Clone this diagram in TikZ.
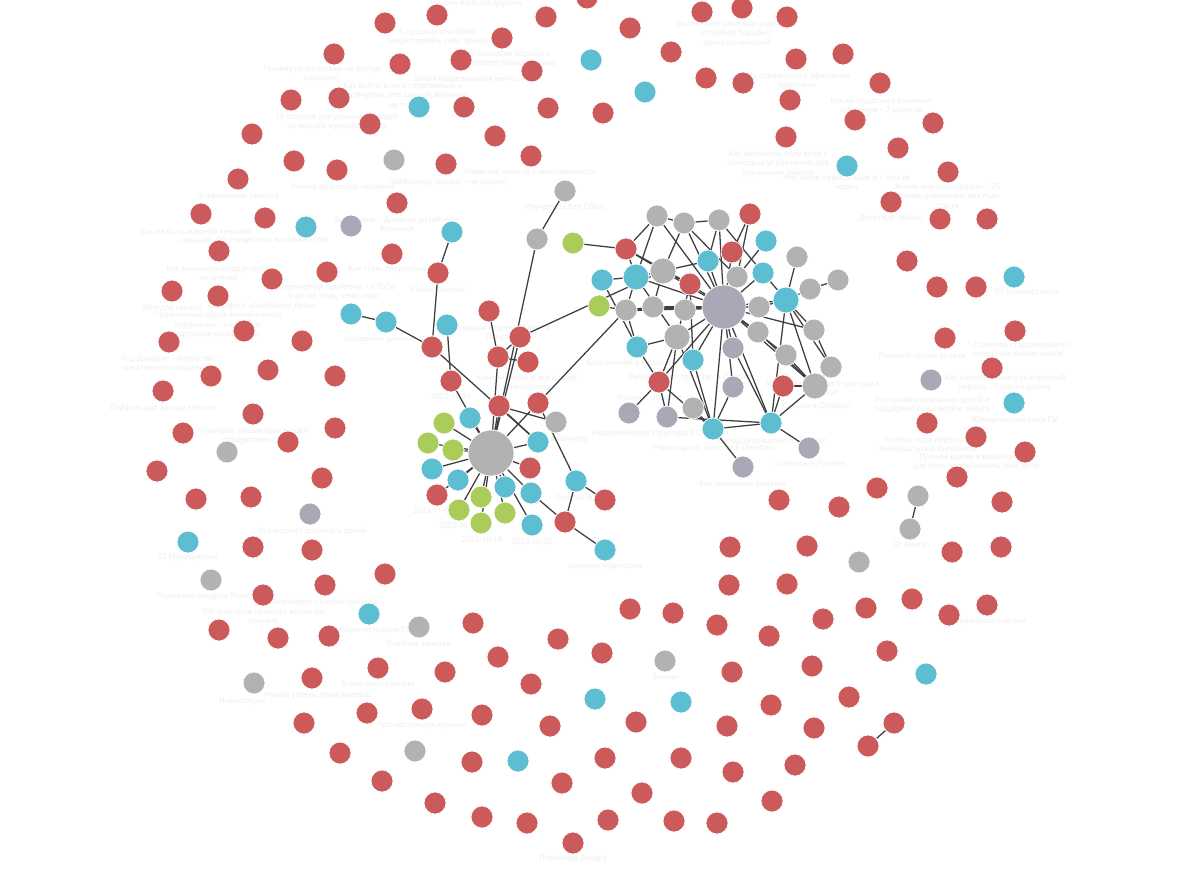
\documentclass[tikz,border=0pt]{standalone}
\usepackage{fontspec}
\newfontfamily\tagfont{Open Sans}
\definecolor{dotred}{RGB}{205,90,90}
\definecolor{dotcyan}{RGB}{92,190,208}
\definecolor{dotgray}{RGB}{178,178,178}
\definecolor{dotslate}{RGB}{168,168,182}
\definecolor{dotgreen}{RGB}{170,204,90}
\definecolor{linkgray}{RGB}{62,62,62}
\pgfdeclarelayer{background}
\pgfsetlayers{background,main}
\tikzset{
	dot/.style={circle, draw=white, line width=.5pt, inner sep=0pt, minimum size=.55cm},
	link/.style={draw=linkgray, line width=.9pt},
	tag/.style={text=black!7, font={\tagfont\fontsize{5.5}{6.6}\selectfont}, align=center, inner sep=0pt}
}
\begin{document}
\begin{tikzpicture}[x=.025cm, y=-.025cm]
		\useasboundingbox (0,0) rectangle (1200,887);
		\def\reds{437/15, 385/23, 546/17, 587/-2, 502/38, 334/54, 400/64, 461/60, 532/71, 291/100,
			339/98, 464/107, 548/108, 252/134, 370/124, 495/136, 294/161, 337/170, 446/164, 531/156,
			238/179, 397/203, 603/113, 630/28, 671/52, 702/12, 742/8, 787/17, 706/78, 743/83,
			796/59, 843/54, 880/83, 790/100, 855/120, 933/123, 786/137, 898/148, 948/172, 891/202,
			940/219, 987/219, 907/261, 937/287, 976/287, 201/214, 265/218, 219/251, 392/254, 272/279,
			327/272, 172/291, 218/296, 244/331, 169/342, 302/341, 211/376, 268/370, 335/376, 163/391,
			253/414, 335/428, 183/433, 288/442, 157/471, 322/478, 196/499, 251/497, 253/547, 312/550,
			263/595, 325/585, 385/574, 219/630, 278/638, 329/636, 473/623, 312/678, 378/668, 445/672,
			498/657, 531/684, 558/639, 602/653, 630/609, 304/723, 367/713, 422/709, 482/715, 550/726,
			340/753, 472/762, 382/781, 435/803, 482/817, 527/823, 562/783, 605/758, 608/820, 573/843,
			636/722, 642/793, 681/758, 674/821, 717/823, 733/772, 772/801, 795/765, 727/726, 771/705,
			814/728, 849/697, 732/672, 812/666, 887/651, 866/608, 823/619, 769/636, 717/625, 673/613,
			729/585, 787/584, 730/547, 807/546, 779/500, 839/507, 877/488, 957/477, 1002/502, 952/552,
			1001/547, 912/599, 949/615, 987/605, 945/338, 1015/331, 992/368, 927/423, 976/437, 1025/452}
		\def\cyans{591/60, 645/92, 419/107, 306/227, 847/166, 1014/277, 1014/403, 188/542, 369/614,
			518/761, 595/699, 681/702, 926/674}
		\def\grays{394/160, 227/452, 211/580, 419/627, 254/683, 415/751, 665/661, 859/562}
		\def\slates{351/226, 310/514, 931/380}
		\foreach \x/\y [count = \i] in \reds { \node[dot, fill=dotred] (r\i) at (\x, \y) {}; }
		\foreach \x/\y [count = \i] in \cyans { \node[dot, fill=dotcyan] (c\i) at (\x, \y) {}; }
		\foreach \x/\y [count = \i] in \grays { \node[dot, fill=dotgray] (g\i) at (\x, \y) {}; }
		\foreach \x/\y [count = \i] in \slates { \node[dot, fill=dotslate] (s\i) at (\x, \y) {}; }
		\node[dot, fill=dotgray] (pa) at (918, 496) {};
		\node[dot, fill=dotgray] (pb) at (910, 529) {};
		\node[dot, fill=dotred] (pc) at (894, 723) {};
		\node[dot, fill=dotred] (pd) at (868, 746) {};
		% dated notes
		\node[dot, fill=dotgray, minimum size=1.15cm] (days) at (491, 453) {};
		\foreach \n/\x/\y/\c in {d1/470/418/dotcyan, d2/444/423/dotgreen, d3/428/443/dotgreen,
			d4/453/450/dotgreen, d5/432/469/dotcyan, d6/458/480/dotcyan, d7/437/495/dotred,
			d8/481/497/dotgreen, d9/459/510/dotgreen, d10/481/523/dotgreen, d11/505/513/dotgreen,
			d12/505/487/dotcyan, d13/531/493/dotcyan, d14/532/525/dotcyan, d15/530/468/dotred,
			d16/538/442/dotcyan, d17/499/406/dotred, d18/538/403/dotred, d19/556/422/dotgray,
			d20/576/481/dotcyan, d21/605/500/dotred, d22/565/522/dotred, d23/605/550/dotcyan,
			d24/451/381/dotred, d25/447/325/dotcyan, d26/432/347/dotred, d27/386/322/dotcyan,
			d28/351/314/dotcyan, d29/438/273/dotred, d30/452/232/dotcyan, d31/498/357/dotred,
			d32/489/311/dotred, d33/528/362/dotred, d34/520/337/dotred, d35/537/239/dotgray,
			d36/565/191/dotgray, d37/573/243/dotgreen, d38/599/306/dotgreen}
			{ \node[dot, fill=\c] (\n) at (\x, \y) {}; }
		% obsidian notes
		\node[dot, fill=dotslate, minimum size=1.1cm] (obs) at (724, 307) {};
		\foreach \n/\x/\y/\c/\s in {k1/657/216/dotgray/.55, k2/684/223/dotgray/.55, k3/719/220/dotgray/.55,
			k4/750/214/dotred/.55, k5/766/241/dotcyan/.55, k6/626/249/dotred/.55, k7/732/252/dotred/.55,
			k8/708/261/dotcyan/.55, k9/763/273/dotcyan/.55, k10/797/257/dotgray/.55, k11/602/280/dotcyan/.55,
			k12/636/277/dotcyan/.65, k13/663/271/dotgray/.65, k14/690/284/dotred/.55, k15/737/277/dotgray/.55,
			k16/838/280/dotgray/.55, k17/810/289/dotgray/.55, k18/786/300/dotcyan/.65, k19/759/307/dotgray/.55,
			k20/626/310/dotgray/.55, k21/653/307/dotgray/.55, k22/685/310/dotgray/.55, k23/814/330/dotgray/.55,
			k24/677/337/dotgray/.65, k25/758/332/dotgray/.55, k26/733/348/dotslate/.55, k27/637/347/dotcyan/.55,
			k28/786/355/dotgray/.55, k29/831/367/dotgray/.55, k30/693/360/dotcyan/.55, k31/659/382/dotred/.55,
			k32/783/386/dotred/.55, k33/733/387/dotslate/.55, k34/815/386/dotgray/.65, k35/693/408/dotgray/.55,
			k36/629/413/dotslate/.55, k37/667/417/dotslate/.55, k38/713/429/dotcyan/.55, k39/771/423/dotcyan/.55,
			k40/809/448/dotslate/.55, k41/743/467/dotslate/.55}
			{ \node[dot, fill=\c, minimum size=\s cm] (\n) at (\x, \y) {}; }
		\begin{pgfonlayer}{background}
			\fill[white] (0,0) rectangle (1200,887);
			\foreach \x/\y/\t [count = \i] in {477/4/{Начать жить по-другому},
				437/37/{5 простых способов\\почувствовать себя лучше},
				510/59/{5 способов борьбы с\\интернет-зависимостью},
				322/74/{Почему to-do-списки не всегда\\работают},
				466/79/{Зачем бездельникам мечты},
				403/95/{Как войти в лето спортивным и\\подтянутым, без единой жиринки\\на теле},
				337/122/{10 советов для успешных людей\\по версии журнала Forbes},
				343/188/{Режим здорового человека}, 238/196/{Дневниковая заметка},
				530/172/{Развитие личной ответственности}, 447/182/{Лайфхакеру кризис – не кризис},
				737/34/{Выполняем сложные задачи – 6\\способов борьбы с\\прокрастинацией},
				797/81/{Как справиться с офисными\\задирами},
				881/105/{Как не поддаться влиянию\\скептиков – 7 советов},
				778/164/{Как воспитать силу воли с\\помощью упражнения для\\улучшения памяти},
				847/183/{Что такое аффирмация и с чем ее\\«едят»},
				947/197/{Жизнь вне корпорации – 25\\уроков, усвоенных два года\\спустя},
				891/219/{Действуй сейчас}, 1027/293/{01 Коммерсанты},
				1018/350/{13 советов стартаперам от\\успешных бизнесменов},
				922/357/{Главный секрет успеха},
				1005/383/{Как написать книгу за короткий\\период – 3 шага к успеху},
				932/405/{Постановка реальных целей и\\поддержка силы воли в тонусе},
				1015/421/{Юридические лица ПУ},
				928/445/{Почему пора перестать\\возмущаться в интернете},
				976/462/{Лучшее время в вашей жизни\\для того, чтобы начать свое дело},
				196/236/{Как не быть жирной ленивой\\свиньей}, 272/240/{Об упущенных возможностях},
				397/224/{Янн Франк – Дневник дизайнера\\Маньяка},
				392/270/{Как стать спортсменом}, 438/290/{Размышления},
				219/273/{Как завоевать сердца своих\\читателей},
				334/292/{Студенческая проблема – в ВУЗе\\учат не тому, чему надо},
				262/306/{Манифест «Любимого Дела»}, 172/308/{Теги для канала},
				218/325/{Правильный образ жизни и ваше\\окружение – как найти\\здоровое сообщество},
				380/339/{Основные данные},
				168/364/{Род Джадкис – Искусство\\креативного мышления},
				163/408/{Лайфхак для автора текстов},
				565/207/{Изучение Libre Office},
				502/333/{Порядок ведения блога в\\Telegram},
				527/383/{Контент-план и все к нему\\относящееся},
				630/363/{База знаний в Obsidian}, 692/377/{Рабочее пространство в Obsidian},
				823/388/{Информационная структура в\\Obsidian}, 650/398/{Папки в Obsidian},
				817/406/{Ссылки в Obsidian}, 660/433/{Иерархическая структура в Obsidian},
				772/441/{Метод Zettelkasten в Obsidian}, 713/448/{Рефакторинг заметок в Obsidian},
				810/465/{О Никласе Лумане},
				557/439/{Шкаф в комнату}, 577/498/{Ответы WB}, 605/567/{Целевая Аудитория},
				743/484/{Как связывать заметки},
				451/397/{2023-10-01}, 433/511/{2023-11-01}, 459/526/{2023-10-20},
				482/540/{2023-10-18}, 532/542/{2023-10-02},
				253/436/{10 мифов, мешающих вашей\\продуктивности},
				312/531/{Что мешает достигать целей}, 188/558/{02 Муниципалы},
				211/597/{Полезные ресурсы Телеграм}, 325/602/{Формирую пенсию сам себе},
				263/617/{100 способов прожить жизнь не\\полную},
				369/631/{03 Администрация ТС}, 419/644/{Учебная заметка},
				242/701/{Инвестиции}, 318/696/{Нужно успеть, пока живешь},
				378/684/{В чем смысл жизни}, 422/726/{Про настоящих мужчин},
				573/859/{Пирамида Дилдса}, 665/677/{Займы}, 910/545/{30 Книги},
				987/622/{5 признаков счастья}}
				{ \node[tag] (t\i) at (\x, \y) {\t}; }
			\foreach \a in {d1, d2, d3, d4, d5, d6, d7, d8, d9, d10, d11, d12, d13, d14, d15, d16,
				d17, d18, d24, d31, d34, d35}
				{ \draw[link] (days) -- (\a); }
			\foreach \a/\b in {d17/d19, d17/d16, d18/d20, d20/d21, d20/d22, d13/d22, d22/d23,
				d26/d16, d27/d26, d28/d27, d29/d26, d30/d29, d25/d24, d32/d31, d31/d33, d34/d31,
				d36/d35, d37/k6, d34/k13, d18/k20, d38/k20, pa/pb, pc/pd}
				{ \draw[link] (\a) -- (\b); }
			\foreach \a in {k1, k2, k3, k7, k8, k9, k12, k13, k14, k15, k18, k19, k21, k22, k23,
				k24, k25, k26, k28, k30, k31, k33, k34, k38, k39}
				{ \draw[link] (obs) -- (\a); }
			\draw[link, line width=2pt] (obs) -- (k20);
			\foreach \a/\b in {k1/k2, k1/k6, k1/k12, k2/k3, k2/k13, k2/k15, k3/k8, k3/k9, k4/k7,
				k4/k15, k5/k15, k6/k12, k6/k14, k6/k13, k11/k12, k11/k27, k12/k13, k12/k20, k12/k24,
				k13/k14, k13/k21, k13/k8, k14/k24, k14/k30, k18/k17, k17/k16, k18/k23, k18/k29,
				k18/k34, k18/k39, k10/k18, k19/k18, k9/k18, k20/k21, k21/k22, k20/k27, k27/k31,
				k27/k24, k24/k31, k24/k37, k24/k38, k31/k36, k31/k37, k31/k38, k30/k38, k35/k38,
				k38/k41, k38/k39, k38/k33, k39/k40, k39/k32, k39/k34, k32/k34, k23/k29, k29/k34,
				k25/k34, k28/k34, k26/k39, k37/k39}
				{ \draw[link] (\a) -- (\b); }
		\end{pgfonlayer}
	\end{tikzpicture}
\end{document}
